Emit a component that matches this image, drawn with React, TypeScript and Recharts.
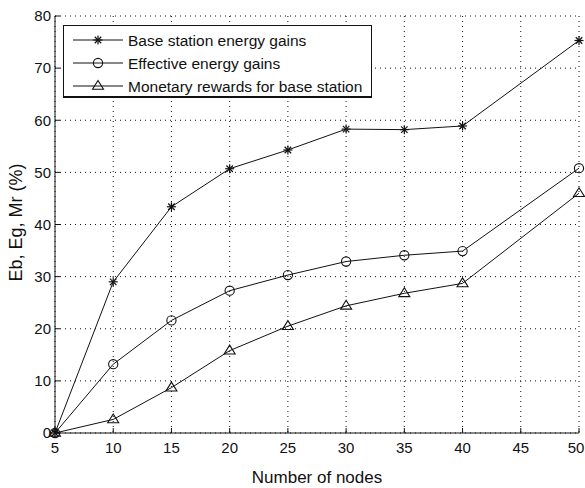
import React from 'react';
import { LineChart, Line, XAxis, YAxis, CartesianGrid } from 'recharts';

const nodes = [5, 10, 15, 20, 25, 30, 35, 40, 50];
const baseStationGains = [0, 29.0, 43.4, 50.7, 54.3, 58.3, 58.2, 58.9, 75.3];
const effectiveGains = [0, 13.2, 21.6, 27.3, 30.3, 32.9, 34.1, 34.9, 50.8];
const monetaryRewards = [0, 2.6, 8.7, 15.8, 20.5, 24.4, 26.8, 28.7, 46.0];

const xTicks = [5, 10, 15, 20, 25, 30, 35, 40, 45, 50];
const yTicks = [0, 10, 20, 30, 40, 50, 60, 70, 80];

const seriesNames = [
  'Base station energy gains',
  'Effective energy gains',
  'Monetary rewards for base station',
];
const xLabel = 'Number of nodes';
const yLabel = 'Eb, Eg, Mr (%)';

const data = nodes.map((n, i) => ({
  n,
  eb: baseStationGains[i],
  eg: effectiveGains[i],
  mr: monetaryRewards[i],
}));

const INK = '#111';
const FONT = '"Liberation Sans", Arial, Helvetica, sans-serif';
const CHART_W = 585;

function Star({ cx, cy }: { cx: number; cy: number }) {
  const r = 4.5;
  const d = r * 0.72;
  return (
    <g stroke={INK} strokeWidth={1.2}>
      <line x1={cx - r} y1={cy} x2={cx + r} y2={cy} />
      <line x1={cx} y1={cy - r} x2={cx} y2={cy + r} />
      <line x1={cx - d} y1={cy - d} x2={cx + d} y2={cy + d} />
      <line x1={cx - d} y1={cy + d} x2={cx + d} y2={cy - d} />
    </g>
  );
}

function Circ({ cx, cy }: { cx: number; cy: number }) {
  return <circle cx={cx} cy={cy} r={4.6} fill="none" stroke={INK} strokeWidth={1.1} />;
}

function Tri({ cx, cy }: { cx: number; cy: number }) {
  const w = 5.5;
  const h = 5.5;
  return (
    <polygon
      points={`${cx},${cy - h} ${cx - w},${cy + h * 0.6} ${cx + w},${cy + h * 0.6}`}
      fill="none"
      stroke={INK}
      strokeWidth={1.1}
    />
  );
}

const markers = [Star, Circ, Tri];
const keys = ['eb', 'eg', 'mr'];

function makeDot(Comp: any) {
  return (props: any) => {
    if (props.cx == null || props.cy == null) return <g key={props.index} />;
    return <Comp key={props.index} cx={props.cx} cy={props.cy} />;
  };
}

function XTick(props: any) {
  const { x, y, payload } = props;
  const label = String(payload.value);
  const half = label.length * 4.2;
  const tx = Math.min(x, CHART_W - half - 0.5);
  return (
    <text
      x={tx}
      y={y}
      dy="0.71em"
      textAnchor="middle"
      fontFamily={FONT}
      fontSize={15}
      fill={INK}
    >
      {label}
    </text>
  );
}

function LegendBox() {
  return (
    <div
      style={{
        position: 'absolute',
        left: 63,
        top: 25,
        width: 309,
        height: 73,
        border: `1px solid ${INK}`,
        borderBottomWidth: 2,
        borderRightWidth: 1.5,
        background: '#fff',
        boxSizing: 'border-box',
      }}
    >
      <svg width={309} height={73} style={{ position: 'absolute', left: 0, top: 0 }}>
        {seriesNames.map((name, i) => {
          const y = 14 + i * 23;
          const M = markers[i];
          return (
            <g key={name}>
              <line x1={9} y1={y} x2={59} y2={y} stroke={INK} strokeWidth={1} />
              <M cx={34} cy={y} />
              <text
                x={64}
                y={y + 5.5}
                fontFamily={FONT}
                fontSize={15.5}
                fill={INK}
              >
                {name}
              </text>
            </g>
          );
        })}
      </svg>
    </div>
  );
}

export default function App() {
  return (
    <div style={{ position: 'absolute', left: 0, top: 0, width: 585, height: 488, background: '#fff' }}>
      <LineChart
        width={CHART_W}
        height={488}
        data={data}
        margin={{ top: 16, right: 6, bottom: 0, left: 0 }}
        style={{ fontFamily: FONT }}
      >
        <CartesianGrid stroke={INK} strokeDasharray="1 4" strokeWidth={1} />
        <XAxis
          dataKey="n"
          type="number"
          domain={[5, 50]}
          ticks={xTicks}
          height={55}
          tickSize={-5}
          tickMargin={14}
          stroke={INK}
          tick={<XTick />}
          tickLine={{ stroke: INK }}
          axisLine={{ stroke: INK }}
          allowDecimals={false}
          interval={0}
          label={{
            content: (p: any) => {
              const vb = p.viewBox || {};
              return (
                <text
                  x={vb.x + vb.width / 2}
                  y={vb.y + 50}
                  textAnchor="middle"
                  fontFamily={FONT}
                  fontSize={17}
                  fill={INK}
                >
                  {xLabel}
                </text>
              );
            },
          }}
        />
        <XAxis
          xAxisId="top"
          orientation="top"
          dataKey="n"
          type="number"
          domain={[5, 50]}
          ticks={xTicks}
          height={0}
          tickSize={-5}
          tick={false}
          stroke={INK}
          tickLine={{ stroke: INK }}
          axisLine={{ stroke: INK }}
          interval={0}
        />
        <YAxis
          type="number"
          domain={[0, 80]}
          ticks={yTicks}
          width={55}
          tickSize={-5}
          tickMargin={9}
          stroke={INK}
          tick={{ fill: INK, fontSize: 15, fontFamily: FONT }}
          tickLine={{ stroke: INK }}
          axisLine={{ stroke: INK }}
          interval={0}
          label={{
            content: (p: any) => {
              const vb = p.viewBox || {};
              const cx = vb.x + 22;
              const cy = vb.y + vb.height / 2 - 2;
              return (
                <text
                  x={cx}
                  y={cy}
                  transform={`rotate(-90 ${cx} ${cy})`}
                  textAnchor="middle"
                  fontFamily={FONT}
                  fontSize={18}
                  fill={INK}
                >
                  {yLabel}
                </text>
              );
            },
          }}
        />
        <YAxis
          yAxisId="right"
          orientation="right"
          type="number"
          domain={[0, 80]}
          ticks={yTicks}
          width={0}
          tickSize={-5}
          tick={false}
          stroke={INK}
          tickLine={{ stroke: INK }}
          axisLine={{ stroke: INK }}
          interval={0}
        />
        {keys.map((k, i) => (
          <Line
            key={k}
            dataKey={k}
            name={seriesNames[i]}
            stroke={INK}
            strokeWidth={1}
            type="linear"
            dot={makeDot(markers[i])}
            activeDot={false}
            isAnimationActive={false}
          />
        ))}
      </LineChart>
      <LegendBox />
    </div>
  );
}
